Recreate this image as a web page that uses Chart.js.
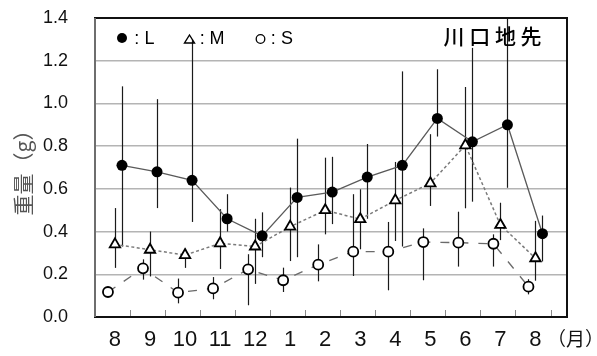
<!DOCTYPE html>
<html>
<head>
<meta charset="utf-8">
<script src="https://cdn.jsdelivr.net/npm/chart.js@4.4.1/dist/chart.umd.min.js"></script>
<style>
  html, body { margin: 0; padding: 0; background: #fff; }
  #wrap { width: 597px; height: 356px; position: relative; }
</style>
</head>
<body>
<div id="wrap"><canvas id="c"></canvas></div>
<script>
// Month labels along the x axis (Aug → Aug)
const monthLabels = ['8', '9', '10', '11', '12', '1', '2', '3', '4', '5', '6', '7', '8'];
const yTickValues = [0, 0.2, 0.4, 0.6, 0.8, 1.0, 1.2, 1.4];

// Large size class (L): mean weight and range (g)
const largeMean = [0.71, 0.68, 0.64, 0.46, 0.38, 0.56, 0.585, 0.655, 0.71, 0.93, 0.82, 0.90, 0.39];
const largeHigh = [1.08, 1.02, 1.30, 0.575, 0.49, 0.835, 0.75, 0.81, 1.15, 1.16, 1.26, 1.40, 0.475];
const largeLow  = [0.33, 0.51, 0.445, 0.40, 0.28, 0.28, 0.435, 0.46, 0.33, 0.845, 0.54, 0.605, 0.26];

// Medium size class (M)
const mediumMean = [0.34, 0.315, 0.29, 0.345, 0.33, 0.423, 0.50, 0.458, 0.546, 0.626, 0.804, 0.431, 0.275];
const mediumHigh = [0.51, 0.40, 0.32, 0.505, 0.46, 0.606, 0.746, 0.598, 0.726, 0.856, 1.077, 0.535, 0.45];
const mediumLow  = [0.23, 0.19, 0.23, 0.225, 0.155, 0.262, 0.387, 0.317, 0.356, 0.52, 0.509, 0.36, 0.17];

// Small size class (S)
const smallMean = [0.117, 0.228, 0.114, 0.134, 0.223, 0.172, 0.245, 0.306, 0.306, 0.351, 0.348, 0.343, 0.142];
const smallHigh = [0.125, 0.27, 0.18, 0.187, 0.294, 0.231, 0.34, 0.575, 0.445, 0.415, 0.493, 0.387, 0.177];
const smallLow  = [0.11, 0.175, 0.064, 0.083, 0.055, 0.117, 0.167, 0.192, 0.125, 0.172, 0.236, 0.236, 0.106];

// Layout of the month slots on the linear x axis
const slotCenter = monthLabels.map((_, i) => i + 0.57);
const dodge = { S: -0.2, M: 0, L: 0.2 };
const X_MAX = 13.47;

const pts = (means, shift) => means.map((v, i) => ({ x: slotCenter[i] + shift, y: v }));

const errorSets = [
  { shift: dodge.S, hi: smallHigh, lo: smallLow },
  { shift: dodge.M, hi: mediumHigh, lo: mediumLow },
  { shift: dodge.L, hi: largeHigh, lo: largeLow }
];

// Vertical range bars, drawn behind the markers
const rangeBars = {
  id: 'rangeBars',
  beforeDatasetsDraw(chart) {
    const { ctx, chartArea: a, scales: { x, y } } = chart;
    ctx.save();
    ctx.beginPath();
    ctx.rect(a.left, a.top, a.right - a.left, a.bottom - a.top);
    ctx.clip();
    ctx.strokeStyle = '#1a1a1a';
    ctx.lineWidth = 1.2;
    errorSets.forEach(set => {
      set.hi.forEach((h, i) => {
        const px = Math.round(x.getPixelForValue(slotCenter[i] + set.shift)) + 0.5;
        ctx.beginPath();
        ctx.moveTo(px, y.getPixelForValue(h));
        ctx.lineTo(px, y.getPixelForValue(set.lo[i]));
        ctx.stroke();
      });
    });
    ctx.restore();
  }
};

// Plot frame, inner tick marks, legend, site name and month unit
const decorations = {
  id: 'decorations',
  afterDatasetsDraw(chart) {
    const { ctx, chartArea: a, scales: { x } } = chart;
    ctx.save();
    // inner tick marks on the bottom axis
    ctx.strokeStyle = '#8a8a8a';
    ctx.lineWidth = 1;
    for (let k = 1; k <= 13; k++) {
      const px = Math.round(x.getPixelForValue(k)) + 0.5;
      ctx.beginPath();
      ctx.moveTo(px, a.bottom);
      ctx.lineTo(px, a.bottom - 7);
      ctx.stroke();
    }
    // frame
    ctx.strokeStyle = '#111';
    ctx.lineWidth = 2;
    ctx.strokeRect(a.left, a.top, a.right - a.left, a.bottom - a.top);
    ctx.strokeStyle = '#6e6e6e';
    ctx.beginPath();
    ctx.moveTo(a.left, a.top);
    ctx.lineTo(a.left, a.bottom);
    ctx.stroke();

    // legend
    const ly = a.top + 19;
    ctx.fillStyle = '#000';
    ctx.strokeStyle = '#000';
    ctx.beginPath();
    ctx.arc(a.left + 27, ly + 1, 5, 0, Math.PI * 2);
    ctx.fill();
    ctx.lineWidth = 1.4;
    ctx.beginPath();
    ctx.moveTo(a.left + 94.5, ly - 2);
    ctx.lineTo(a.left + 99.5, ly + 6);
    ctx.lineTo(a.left + 89.5, ly + 6);
    ctx.closePath();
    ctx.stroke();
    ctx.lineWidth = 1.3;
    ctx.beginPath();
    ctx.arc(a.left + 165.5, ly + 2, 4.3, 0, Math.PI * 2);
    ctx.stroke();

    ctx.font = '18px "Liberation Sans", Arial, sans-serif';
    ctx.textBaseline = 'alphabetic';
    ctx.textAlign = 'center';
    [[a.left + 41.7, ':'], [a.left + 107.3, ':'], [a.left + 178.3, ':']].forEach(([tx, t]) => ctx.fillText(t, tx, ly + 7));
    ctx.textAlign = 'left';
    ctx.fillText('L', a.left + 49.5, ly + 7);
    ctx.fillText('M', a.left + 114.5, ly + 7);
    ctx.fillText('S', a.left + 186, ly + 7);

    // site name
    ctx.font = '500 21px "Noto Sans CJK JP", sans-serif';
    ctx.textAlign = 'center';
    ctx.textBaseline = 'middle';
    ['川', '口', '地', '先'].forEach((ch, i) => ctx.fillText(ch, 454 + i * 25.7, a.top + 18));

    // month unit after the last label
    ctx.font = '19px "Noto Sans CJK JP", sans-serif';
    ctx.textAlign = 'left';
    ctx.fillStyle = '#111';
    ctx.fillText('（月）', 547, 339);
    ctx.restore();
  }
};

new Chart(document.getElementById('c'), {
  type: 'line',
  data: {
    datasets: [
      {
        label: 'L',
        data: pts(largeMean, dodge.L),
        borderColor: '#5a5a5a',
        borderWidth: 1.3,
        pointStyle: 'circle',
        pointRadius: 5.5,
        pointBorderWidth: 0,
        pointBackgroundColor: '#000',
        pointBorderColor: '#000',
        order: 1
      },
      {
        label: 'M',
        data: pts(mediumMean, dodge.M),
        borderColor: '#7a7a7a',
        borderWidth: 1.5,
        borderDash: [3, 2.5],
        pointStyle: 'triangle',
        pointRadius: 6,
        pointBorderWidth: 1.8,
        pointBackgroundColor: '#fff',
        pointBorderColor: '#000',
        order: 2
      },
      {
        label: 'S',
        data: pts(smallMean, dodge.S),
        borderColor: '#6a6a6a',
        borderWidth: 1.3,
        borderDash: [9, 10],
        pointStyle: 'circle',
        pointRadius: 5,
        pointBorderWidth: 1.8,
        pointBackgroundColor: '#fff',
        pointBorderColor: '#000',
        order: 3
      }
    ]
  },
  options: {
    responsive: true,
    maintainAspectRatio: false,
    animation: false,
    devicePixelRatio: 1,
    layout: { padding: { top: 18, right: 30, bottom: 0, left: 0 } },
    plugins: { legend: { display: false }, tooltip: { enabled: false } },
    scales: {
      x: {
        type: 'linear',
        min: 0,
        max: X_MAX,
        afterBuildTicks: s => { s.ticks = slotCenter.map(v => ({ value: v })); },
        afterFit: s => { s.height = 39; },
        grid: { display: false, drawTicks: false },
        border: { display: false },
        ticks: {
          autoSkip: false,
          maxRotation: 0,
          padding: 10,
          color: '#111',
          font: { family: '"Liberation Sans Narrow", "Liberation Sans", Arial, sans-serif', size: 22 },
          callback: (v, i) => monthLabels[i]
        }
      },
      y: {
        min: 0,
        max: 1.4,
        afterBuildTicks: s => { s.ticks = yTickValues.map(v => ({ value: v })); },
        afterFit: s => { s.width = 95; s.paddingTop = 0; s.paddingBottom = 0; },
        grid: { color: '#b4b4b4', lineWidth: 1.5, drawTicks: false },
        border: { display: false },
        ticks: {
          padding: 27,
          color: '#111',
          font: { family: '"Liberation Sans", Arial, sans-serif', size: 18 },
          callback: v => Number(v).toFixed(1)
        },
        title: {
          display: true,
          text: '重量（g）',
          color: '#555',
          padding: { top: 10, bottom: 0 },
          font: { family: '"Noto Sans CJK JP", sans-serif', size: 21 }
        }
      }
    }
  },
  plugins: [rangeBars, decorations]
});
</script>
</body>
</html>
